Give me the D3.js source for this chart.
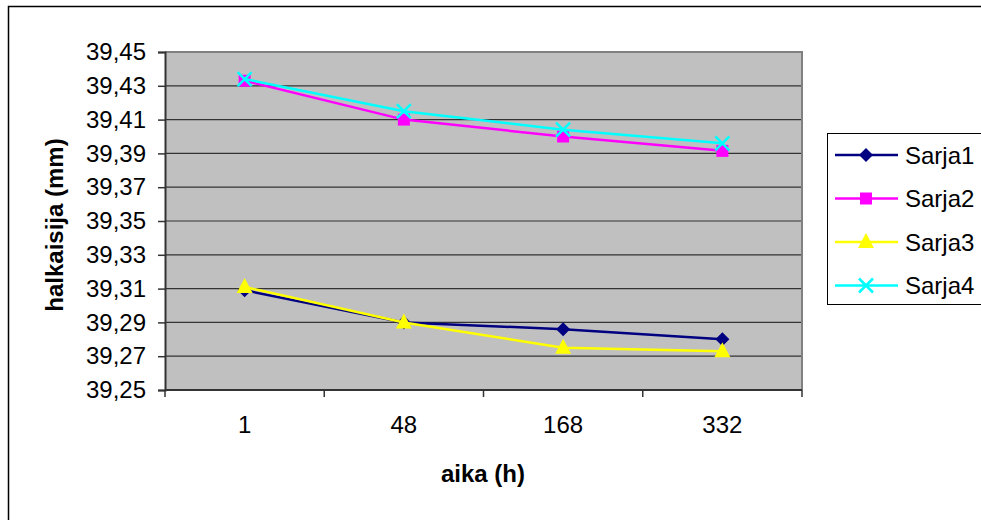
<!DOCTYPE html>
<html lang="fi">
<head>
<meta charset="UTF-8">
<title>halkaisija</title>
<script src="https://d3js.org/d3.v7.min.js"></script>
<style>
  body { margin: 0; background: #fff; }
  text { font-family: Arial, "Liberation Sans", sans-serif; }
</style>
</head>
<body>
<div id="chart"></div>
<script>
// categories on the x axis (aika, h)
const categories = ["1", "48", "168", "332"];

// measured diameters per series
const sarja1 = [39.309, 39.290, 39.286, 39.280];
const sarja2 = [39.433, 39.410, 39.400, 39.3915];
const sarja3 = [39.311, 39.290, 39.275, 39.273];
const sarja4 = [39.434, 39.415, 39.404, 39.396];

const seriesNames = ["Sarja1", "Sarja2", "Sarja3", "Sarja4"];
const yTicks = [39.25, 39.27, 39.29, 39.31, 39.33, 39.35, 39.37, 39.39, 39.41, 39.43, 39.45];

const W = 981, H = 520;
const plot = { left: 165, top: 52, right: 802, bottom: 390 };

const colors = ["#000080", "#ff00ff", "#ffff00", "#00ffff"];
const shapes = ["diamond", "square", "triangle", "cross"];
const allSeries = [sarja1, sarja2, sarja3, sarja4];

const svg = d3.select("#chart").append("svg")
  .attr("width", W).attr("height", H);

// outer chart border (runs off the right/bottom edge)
svg.append("rect")
  .attr("x", 8.5).attr("y", 6.5)
  .attr("width", 1000).attr("height", 600)
  .attr("fill", "#fff").attr("stroke", "#000").attr("stroke-width", 1.5);

const x = d3.scaleBand().domain(categories).range([plot.left, plot.right]);
const y = d3.scaleLinear().domain([39.25, 39.45]).range([plot.bottom, plot.top]);

// plot background
svg.append("rect")
  .attr("x", plot.left).attr("y", plot.top)
  .attr("width", plot.right - plot.left).attr("height", plot.bottom - plot.top)
  .attr("fill", "#c0c0c0");

// gridlines
svg.append("g").selectAll("line")
  .data(yTicks.slice(1, -1))
  .join("line")
  .attr("x1", plot.left).attr("x2", plot.right)
  .attr("y1", d => y(d)).attr("y2", d => y(d))
  .attr("stroke", "#333").attr("stroke-width", 1.2);

// plot border top & right
svg.append("path")
  .attr("d", `M${plot.left},${plot.top}H${plot.right}V${plot.bottom}`)
  .attr("fill", "none").attr("stroke", "#808080").attr("stroke-width", 2);

// y axis
const yAxis = svg.append("g")
  .attr("transform", `translate(${plot.left},0)`)
  .call(d3.axisLeft(y).tickValues(yTicks).tickSize(7).tickPadding(12)
    .tickFormat(d => d3.format(".2f")(d).replace(".", ",")));
yAxis.select(".domain").attr("stroke", "#333").attr("stroke-width", 2);
yAxis.selectAll(".tick line").attr("stroke", "#333").attr("stroke-width", 1.5);
yAxis.selectAll(".tick text").attr("font-size", 24).attr("fill", "#000")
  .attr("font-family", "Arial, 'Liberation Sans', sans-serif");

// x axis: ticks on band boundaries, labels centred
const xAxis = svg.append("g")
  .attr("transform", `translate(0,${plot.bottom})`);
xAxis.append("line")
  .attr("x1", plot.left).attr("x2", plot.right)
  .attr("stroke", "#333").attr("stroke-width", 2);
const bounds = categories.map(c => x(c)).concat([x(categories[categories.length - 1]) + x.bandwidth()]);
xAxis.selectAll(".xt").data(bounds).join("line")
  .attr("x1", d => d).attr("x2", d => d).attr("y1", 0).attr("y2", 7)
  .attr("stroke", "#333").attr("stroke-width", 1.5);
xAxis.selectAll(".xl").data(categories).join("text")
  .attr("x", d => x(d) + x.bandwidth() / 2)
  .attr("y", 43)
  .attr("text-anchor", "middle")
  .attr("font-size", 24)
  .text(d => d);

// axis titles
svg.append("text")
  .attr("transform", `translate(63,225) rotate(-90)`)
  .attr("text-anchor", "middle")
  .attr("font-size", 24).attr("font-weight", "bold")
  .text("halkaisija (mm)");
svg.append("text")
  .attr("x", 483).attr("y", 482)
  .attr("text-anchor", "middle")
  .attr("font-size", 24).attr("font-weight", "bold")
  .text("aika (h)");

function marker(g, shape, color) {
  if (shape === "diamond") {
    g.append("path").attr("d", "M0,-7L7,0L0,7L-7,0Z").attr("fill", color);
  } else if (shape === "square") {
    g.append("rect").attr("x", -6).attr("y", -6).attr("width", 12).attr("height", 12).attr("fill", color);
  } else if (shape === "triangle") {
    g.append("path").attr("d", "M0,-9L8,6L-8,6Z").attr("fill", color);
  } else {
    g.append("path").attr("d", "M-7,-7L7,7M7,-7L-7,7")
      .attr("stroke", color).attr("stroke-width", 2.5).attr("fill", "none");
  }
}

const line = d3.line()
  .x((d, i) => x(categories[i]) + x.bandwidth() / 2)
  .y(d => y(d));

allSeries.forEach((vals, s) => {
  const g = svg.append("g");
  g.append("path")
    .attr("d", line(vals))
    .attr("fill", "none")
    .attr("stroke", colors[s])
    .attr("stroke-width", 2.5);
  vals.forEach((v, i) => {
    const m = g.append("g")
      .attr("transform", `translate(${x(categories[i]) + x.bandwidth() / 2},${y(v)})`);
    marker(m, shapes[s], colors[s]);
  });
});

// legend
const lg = svg.append("g");
lg.append("rect")
  .attr("x", 827.5).attr("y", 133.5)
  .attr("width", 200).attr("height", 171)
  .attr("fill", "#fff").attr("stroke", "#000").attr("stroke-width", 1);
seriesNames.forEach((name, i) => {
  const cy = 155 + i * 43.5;
  lg.append("line")
    .attr("x1", 835).attr("x2", 898).attr("y1", cy).attr("y2", cy)
    .attr("stroke", colors[i]).attr("stroke-width", 2.5);
  const m = lg.append("g").attr("transform", `translate(866,${cy})`);
  marker(m, shapes[i], colors[i]);
  lg.append("text")
    .attr("x", 905).attr("y", cy + 8.5)
    .attr("font-size", 24)
    .text(name);
});
</script>
</body>
</html>
